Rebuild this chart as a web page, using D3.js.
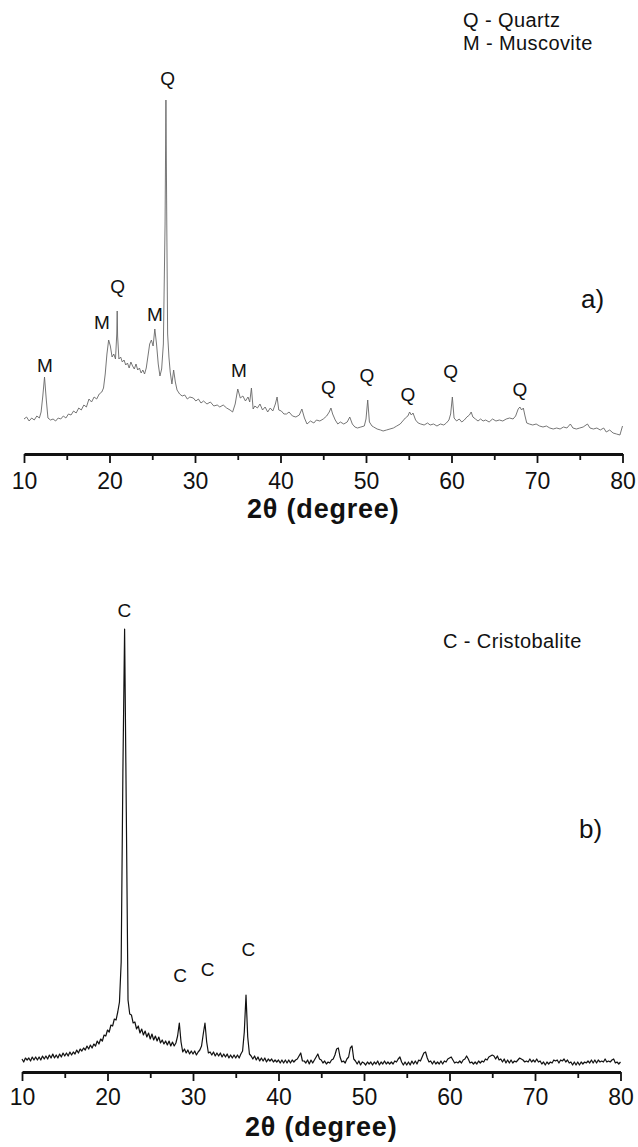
<!DOCTYPE html>
<html>
<head>
<meta charset="utf-8">
<script src="https://cdn.jsdelivr.net/npm/d3@7"></script>
<style>
  body { margin: 0; background: #fff; }
  text { font-family: "Liberation Sans", Arial, sans-serif; fill: #111; }
</style>
</head>
<body>
<div id="chart"></div>
<script>
// ---- panel a) : clay sample, [2theta, counts]
const angleTicks = [10, 20, 30, 40, 50, 60, 70, 80];
const angleMinor = [15, 25, 35, 45, 55, 65, 75];

const patternA = [
  [10.0, 35], [10.3, 37], [10.6, 33], [10.9, 36], [11.2, 34], [11.5, 38], [11.8, 36], [12.0, 42],
  [12.2, 58], [12.4, 77], [12.6, 55], [12.8, 36], [13.1, 34], [13.4, 35], [13.7, 33], [14.0, 36],
  [14.3, 35], [14.6, 38], [14.9, 36], [15.2, 40], [15.5, 39], [15.8, 43], [16.1, 41], [16.4, 46],
  [16.7, 44], [17.0, 49], [17.3, 47], [17.6, 55], [17.9, 52], [18.2, 57], [18.5, 55], [18.8, 60],
  [19.1, 62], [19.3, 66], [19.5, 80], [19.7, 100], [19.9, 114], [20.1, 108], [20.3, 97], [20.5, 100],
  [20.7, 95], [20.85, 120], [20.9, 143], [20.95, 118], [21.1, 95], [21.3, 97], [21.5, 92], [21.7, 94],
  [21.9, 89], [22.1, 91], [22.3, 86], [22.5, 92], [22.7, 88], [22.9, 85], [23.1, 90], [23.3, 84],
  [23.5, 86], [23.7, 81], [23.9, 84], [24.1, 80], [24.3, 86], [24.5, 98], [24.7, 110], [24.9, 114],
  [25.1, 108], [25.3, 125], [25.5, 110], [25.7, 90], [25.9, 78], [26.1, 85], [26.3, 110], [26.5, 230],
  [26.6, 354], [26.7, 230], [26.8, 120], [26.95, 97], [27.1, 82], [27.3, 70], [27.5, 84], [27.7, 72],
  [27.9, 64], [28.2, 60], [28.5, 58], [28.8, 59], [29.1, 55], [29.4, 57], [29.8, 56], [30.1, 53],
  [30.4, 55], [30.7, 51], [31.0, 53], [31.4, 50], [31.8, 52], [32.2, 48], [32.6, 49], [32.9, 47],
  [33.3, 49], [33.7, 46], [34.1, 44], [34.4, 42], [34.7, 50], [35.0, 65], [35.3, 56], [35.6, 58],
  [35.9, 53], [36.2, 57], [36.4, 52], [36.6, 66], [36.8, 45], [37.0, 48], [37.3, 46], [37.6, 50],
  [37.9, 44], [38.2, 47], [38.5, 42], [38.8, 46], [39.1, 43], [39.4, 50], [39.6, 57], [39.8, 44],
  [40.1, 43], [40.4, 40], [40.7, 40], [41.0, 42], [41.4, 38], [41.8, 37], [42.2, 39], [42.5, 45],
  [42.8, 36], [43.1, 30], [43.5, 33], [43.9, 31], [44.2, 34], [44.6, 33], [45.0, 35], [45.4, 38],
  [45.7, 42], [45.9, 46], [46.1, 40], [46.4, 34], [46.7, 30], [47.0, 32], [47.4, 30], [47.8, 32],
  [48.1, 37], [48.4, 30], [48.7, 27], [49.0, 26], [49.4, 27], [49.8, 28], [50.0, 35], [50.2, 54],
  [50.4, 32], [50.7, 28], [50.9, 27], [51.3, 25], [51.7, 24], [52.0, 23], [52.4, 24], [52.8, 25],
  [53.2, 26], [53.6, 28], [54.0, 30], [54.3, 33], [54.6, 36], [54.9, 38], [55.1, 42], [55.3, 39],
  [55.5, 41], [55.8, 34], [56.1, 31], [56.4, 30], [56.8, 29], [57.2, 31], [57.5, 29], [57.9, 30],
  [58.3, 28], [58.7, 30], [59.1, 29], [59.4, 31], [59.7, 34], [59.9, 40], [60.1, 57], [60.3, 36],
  [60.6, 33], [60.9, 35], [61.2, 32], [61.5, 34], [61.8, 37], [62.1, 39], [62.3, 42], [62.5, 37],
  [62.8, 35], [63.1, 33], [63.4, 35], [63.7, 33], [64.0, 34], [64.4, 32], [64.8, 35], [65.2, 33],
  [65.6, 34], [66.0, 33], [66.4, 35], [66.8, 36], [67.2, 35], [67.5, 38], [67.8, 45], [68.0, 47],
  [68.2, 44], [68.4, 46], [68.6, 38], [68.8, 31], [69.1, 30], [69.5, 29], [69.9, 30], [70.3, 28],
  [70.7, 27], [71.1, 28], [71.5, 26], [71.9, 25], [72.3, 26], [72.7, 25], [73.1, 27], [73.5, 26],
  [73.9, 30], [74.2, 26], [74.6, 25], [75.0, 26], [75.4, 27], [75.9, 30], [76.2, 26], [76.6, 25],
  [77.0, 26], [77.4, 24], [77.8, 26], [78.1, 22], [78.5, 24], [78.9, 21], [79.3, 20], [79.7, 19],
  [80.0, 28]
];

// peak letters of panel a): [letter, 2theta, counts at baseline]
const peaksA = [
  ["M", 12.46, 82], ["M", 19.1, 125], ["Q", 20.96, 161], ["M", 25.3, 133], ["Q", 26.8, 369],
  ["M", 35.15, 77], ["Q", 45.6, 60], ["Q", 50.1, 72], ["Q", 54.9, 53], ["Q", 59.9, 76], ["Q", 68.0, 58]
];
const legendA = ["Q - Quartz", "M - Muscovite"];

// ---- panel b) : calcined sample, counts every 0.2 deg from 10 to 80
const startB = 10, stepB = 0.2;
const countsB = [
  13, 10, 14, 12, 14,  11, 15, 12, 15, 12,  15, 12, 16, 13, 16,  13, 17, 14, 18, 14,
  17, 14, 18, 15, 19,  16, 19, 16, 20, 17,  20, 18, 22, 19, 23,  21, 24, 22, 26, 23,
  27, 24, 28, 26, 31,  28, 33, 31, 37, 36,  42, 40, 47, 46, 53,  52, 60, 70, 110, 300,
  443, 260, 72, 58, 57,  49, 50, 43, 46, 39,  43, 37, 41, 35, 39,  33, 38, 32, 36, 31,
  35, 29, 32, 28, 31,  27, 31, 26, 30, 26,  29, 36, 49, 30, 20,  23, 19, 22, 18, 21,
  18, 21, 17, 20, 22,  26, 38, 49, 30, 19,  20, 17, 20, 16, 19,  16, 19, 15, 18, 15,
  18, 14, 17, 14, 17,  14, 17, 14, 18, 21,  40, 77, 35, 18, 16,  13, 16, 12, 15, 11,
  14, 11, 14, 10, 13,  11, 13, 10, 12, 10,  12, 9, 12, 9, 12,  9, 12, 9, 12, 10,
  12, 13, 16, 19, 11,  11, 9, 12, 8, 12,  9, 12, 15, 18, 13,  12, 9, 11, 8, 10,
  9, 12, 13, 17, 23,  24, 15, 10, 11, 9,  13, 15, 24, 26, 13,  11, 8, 11, 7, 10,
  9, 7, 10, 8, 10,  7, 10, 8, 11, 7,  10, 8, 11, 8, 10,  8, 10, 8, 11, 10,
  13, 15, 10, 7, 10,  7, 10, 7, 11, 8,  11, 8, 12, 11, 15,  19, 20, 14, 10, 11,
  8, 11, 8, 10, 8,  11, 8, 11, 10, 13,  14, 15, 12, 9, 10,  9, 11, 9, 12, 13,
  16, 13, 9, 10, 8,  10, 8, 11, 9, 11,  10, 13, 12, 15, 16,  17, 16, 13, 16, 12,
  13, 10, 13, 9, 12,  9, 12, 9, 11, 10,  12, 14, 13, 12, 10,  11, 10, 13, 10, 12,
  10, 13, 10, 11, 8,  10, 7, 10, 8, 10,  9, 12, 11, 12, 9,  12, 11, 13, 10, 12,
  9, 10, 7, 10, 7,  10, 7, 10, 8, 10,  9, 11, 9, 12, 9,  12, 9, 12, 10, 11,
  10, 13, 10, 11, 10,  12, 13, 9, 10, 8,  10
];
const peaksB = [["C", 21.96, 455], ["C", 28.48, 90], ["C", 31.7, 96], ["C", 36.47, 116]];
const legendB = ["C - Cristobalite"];

const width = 638, height = 1147;

const svg = d3.select("#chart").append("svg")
  .attr("width", width)
  .attr("height", height);

const drawPanel = (cfg) => {
  const x = d3.scaleLinear().domain([10, 80]).range([cfg.left, cfg.right]);
  const y = d3.scaleLinear().domain([0, cfg.yMax]).range([cfg.axisY, cfg.topY]);
  const g = svg.append("g");

  // minor ticks
  g.append("g")
    .attr("transform", `translate(0,${cfg.axisY})`)
    .call(d3.axisBottom(x).tickValues(angleMinor).tickSize(6).tickFormat(""))
    .call(a => a.select(".domain").remove())
    .call(a => a.selectAll(".tick line").attr("stroke", "#111").attr("stroke-width", 1.8));

  // major ticks + labels
  g.append("g")
    .attr("transform", `translate(0,${cfg.axisY})`)
    .call(d3.axisBottom(x).tickValues(angleTicks).tickSize(9).tickSizeOuter(0).tickPadding(cfg.pad))
    .call(a => a.select(".domain").attr("stroke", "#111").attr("stroke-width", 3))
    .call(a => a.selectAll(".tick line").attr("stroke", "#111").attr("stroke-width", 1.8))
    .call(a => a.selectAll(".tick text")
      .attr("font-family", "Liberation Sans, Arial, sans-serif")
      .attr("font-size", 23)
      .attr("fill", "#222"));

  g.append("text")
    .attr("x", (cfg.left + cfg.right) / 2)
    .attr("y", cfg.axisY + 64)
    .attr("text-anchor", "middle")
    .attr("font-size", 27)
    .attr("font-weight", "bold")
    .attr("letter-spacing", 0.8)
    .text("2θ (degree)");

  const line = d3.line().x(d => x(d[0])).y(d => y(d[1]));
  g.append("path")
    .datum(cfg.data)
    .attr("fill", "none")
    .attr("stroke", cfg.color)
    .attr("stroke-width", cfg.lw)
    .attr("stroke-linejoin", "round")
    .attr("d", line);

  g.selectAll(".peak")
    .data(cfg.peaks)
    .join("text")
    .attr("class", "peak")
    .attr("x", d => x(d[1]))
    .attr("y", d => y(d[2]))
    .attr("text-anchor", "middle")
    .attr("font-size", 19)
    .text(d => d[0]);

  g.selectAll(".legend")
    .data(cfg.legend)
    .join("text")
    .attr("class", "legend")
    .attr("x", cfg.legX)
    .attr("y", (d, i) => cfg.legY + i * 23)
    .attr("font-size", 20)
    .attr("letter-spacing", 0.4)
    .text(d => d);

  g.append("text")
    .attr("x", cfg.left + 557)
    .attr("y", cfg.tagY)
    .attr("font-size", 26)
    .text(cfg.tag);
};

drawPanel({
  data: patternA, peaks: peaksA, legend: legendA,
  left: 24, right: 622.5, axisY: 454, topY: 100, yMax: 354, pad: 10,
  color: "#666", lw: 0.9, legX: 463, legY: 27, tag: "a)", tagY: 308
});

drawPanel({
  data: countsB.map((c, i) => [startB + i * stepB, c]), peaks: peaksB, legend: legendB,
  left: 22, right: 620.5, axisY: 1072, topY: 629, yMax: 443, pad: 8,
  color: "#111", lw: 1.2, legX: 443, legY: 648, tag: "b)", tagY: 838
});
</script>
</body>
</html>
